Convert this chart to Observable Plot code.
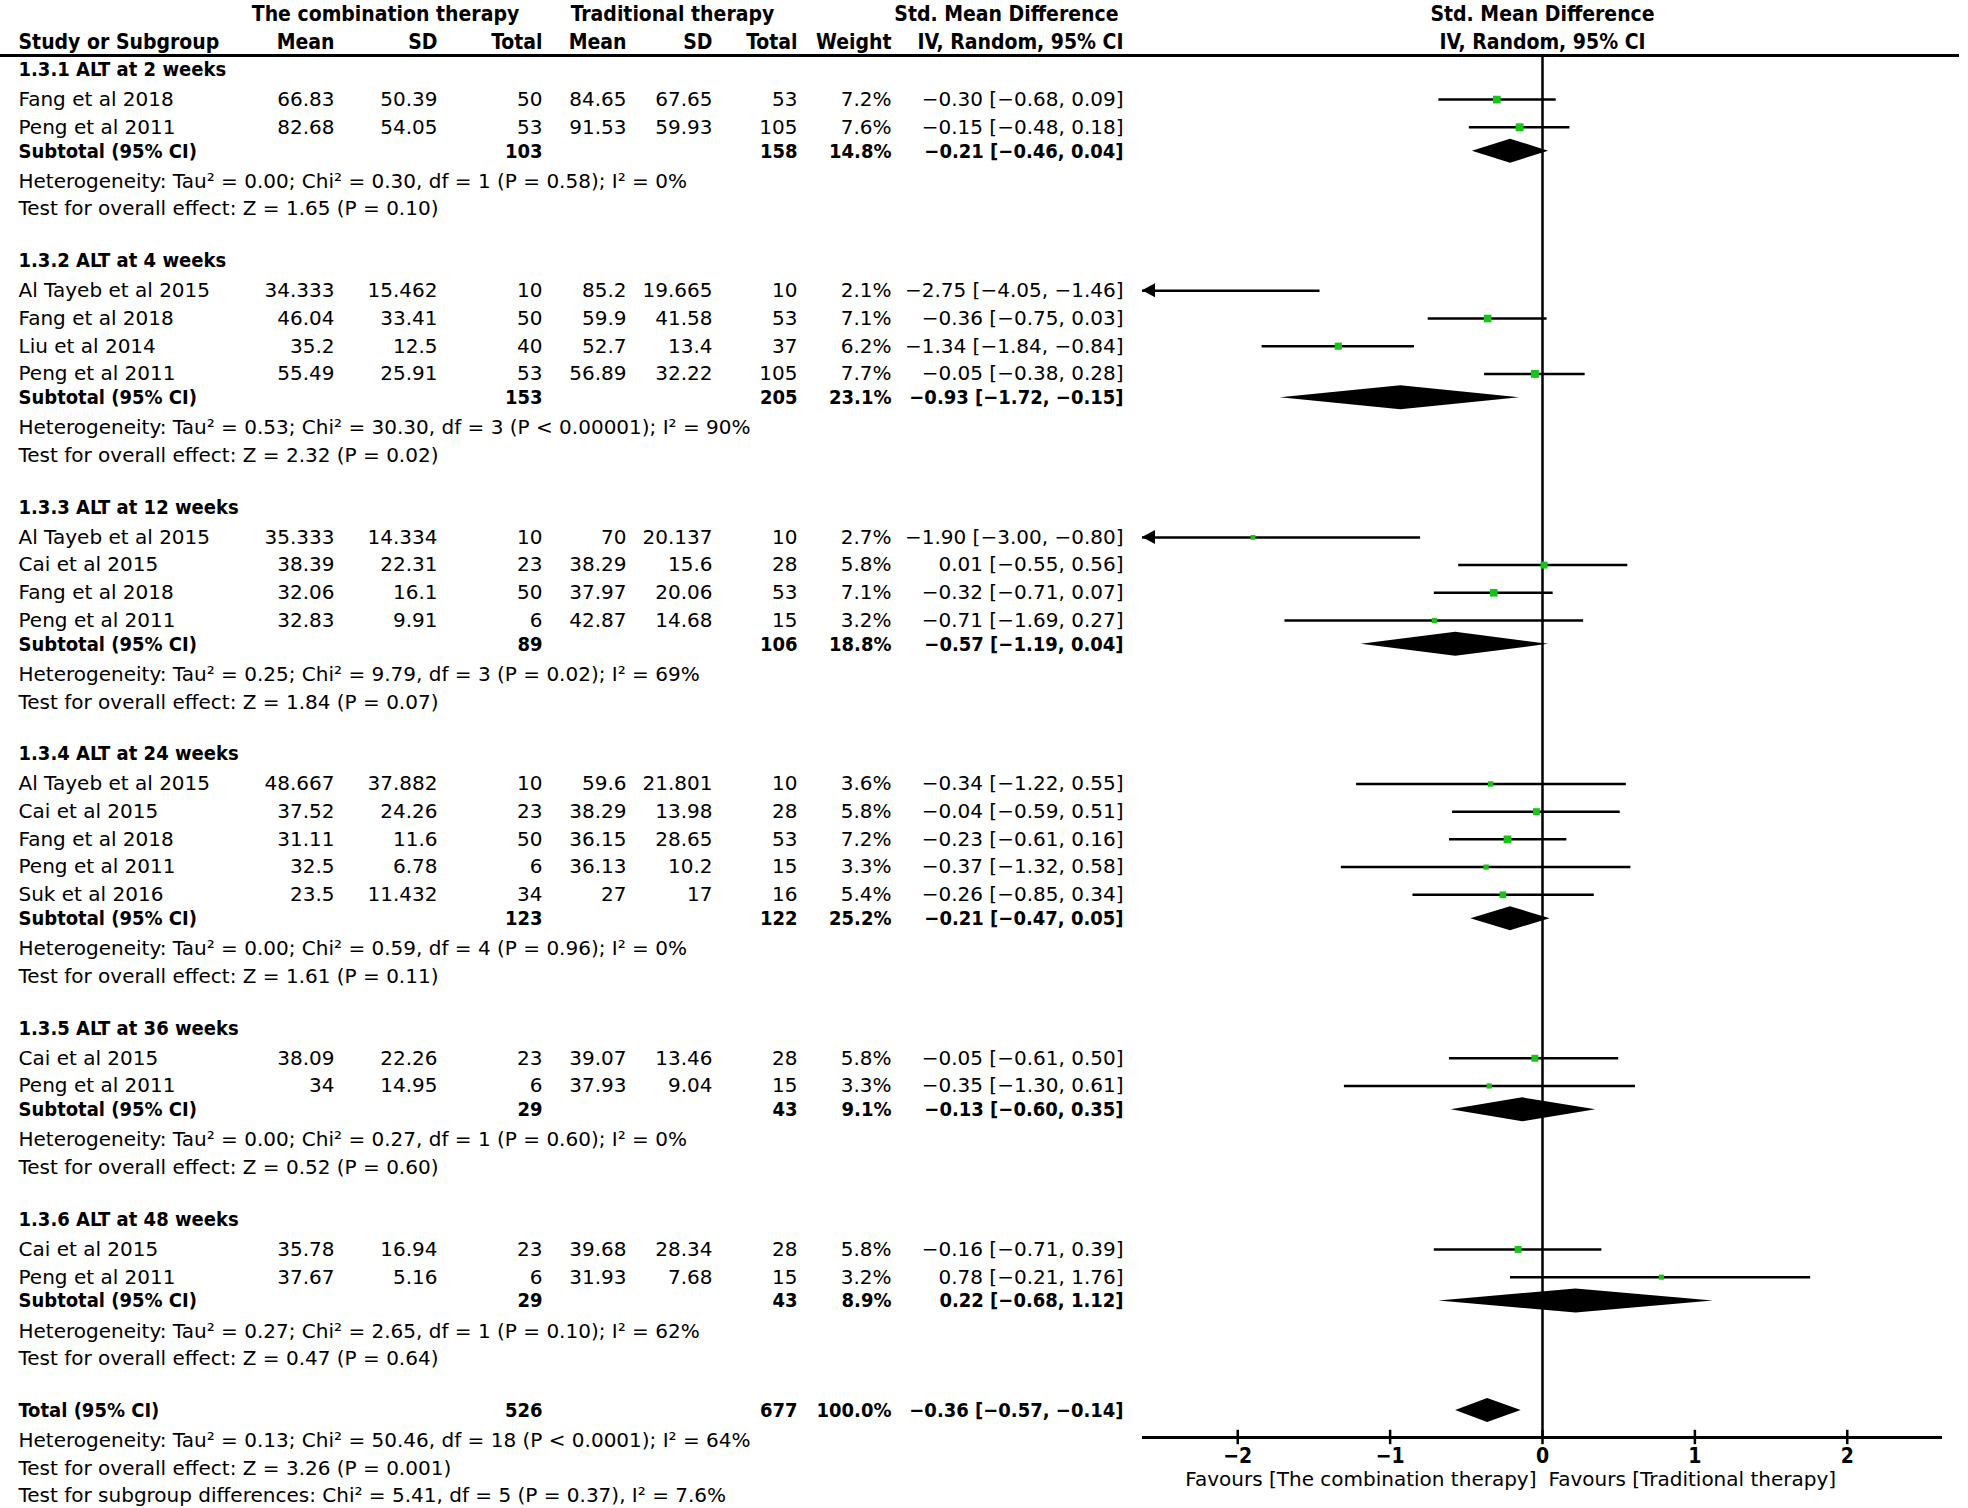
<!DOCTYPE html>
<html><head><meta charset="utf-8">
<script src="https://cdn.jsdelivr.net/npm/d3@7"></script>
<script src="https://cdn.jsdelivr.net/npm/@observablehq/plot@0.6"></script>
<style>
html,body{margin:0;padding:0;background:#fff;}
#chart svg{display:block;}
#chart g[font-weight="bold"]{font-family:'DejaVu Sans Condensed','DejaVu Sans',sans-serif;font-stretch:condensed;}
</style></head><body><div id="chart"></div>
<script>
// ---------------- DATA ----------------
const subgroupTitles = ["1.3.1 ALT at 2 weeks","1.3.2 ALT at 4 weeks","1.3.3 ALT at 12 weeks","1.3.4 ALT at 24 weeks","1.3.5 ALT at 36 weeks","1.3.6 ALT at 48 weeks"];
const studyGroup = [0,0, 1,1,1,1, 2,2,2,2, 3,3,3,3,3, 4,4, 5,5];
const studyNames = ["Fang et al 2018","Peng et al 2011",
  "Al Tayeb et al 2015","Fang et al 2018","Liu et al 2014","Peng et al 2011",
  "Al Tayeb et al 2015","Cai et al 2015","Fang et al 2018","Peng et al 2011",
  "Al Tayeb et al 2015","Cai et al 2015","Fang et al 2018","Peng et al 2011","Suk et al 2016",
  "Cai et al 2015","Peng et al 2011",
  "Cai et al 2015","Peng et al 2011"];
const combMean = [66.83,82.68, 34.333,46.04,35.2,55.49, 35.333,38.39,32.06,32.83, 48.667,37.52,31.11,32.5,23.5, 38.09,34, 35.78,37.67];
const combSD   = [50.39,54.05, 15.462,33.41,12.5,25.91, 14.334,22.31,16.1,9.91, 37.882,24.26,11.6,6.78,11.432, 22.26,14.95, 16.94,5.16];
const combN    = [50,53, 10,50,40,53, 10,23,50,6, 10,23,50,6,34, 23,6, 23,6];
const tradMean = [84.65,91.53, 85.2,59.9,52.7,56.89, 70,38.29,37.97,42.87, 59.6,38.29,36.15,36.13,27, 39.07,37.93, 39.68,31.93];
const tradSD   = [67.65,59.93, 19.665,41.58,13.4,32.22, 20.137,15.6,20.06,14.68, 21.801,13.98,28.65,10.2,17, 13.46,9.04, 28.34,7.68];
const tradN    = [53,105, 10,53,37,105, 10,28,53,15, 10,28,53,15,16, 28,15, 28,15];
const studyWeight = [7.2,7.6, 2.1,7.1,6.2,7.7, 2.7,5.8,7.1,3.2, 3.6,5.8,7.2,3.3,5.4, 5.8,3.3, 5.8,3.2];
const studySMD  = [-0.30,-0.15, -2.75,-0.36,-1.34,-0.05, -1.90,0.01,-0.32,-0.71, -0.34,-0.04,-0.23,-0.37,-0.26, -0.05,-0.35, -0.16,0.78];
const studyLow  = [-0.68,-0.48, -4.05,-0.75,-1.84,-0.38, -3.00,-0.55,-0.71,-1.69, -1.22,-0.59,-0.61,-1.32,-0.85, -0.61,-1.30, -0.71,-0.21];
const studyHigh = [0.09,0.18, -1.46,0.03,-0.84,0.28, -0.80,0.56,0.07,0.27, 0.55,0.51,0.16,0.58,0.34, 0.50,0.61, 0.39,1.76];

const subCombN  = [103,153,89,123,29,29];
const subTradN  = [158,205,106,122,43,43];
const subWeight = [14.8,23.1,18.8,25.2,9.1,8.9];
const subSMD    = [-0.21,-0.93,-0.57,-0.21,-0.13,0.22];
const subLow    = [-0.46,-1.72,-1.19,-0.47,-0.60,-0.68];
const subHigh   = [0.04,-0.15,0.04,0.05,0.35,1.12];
const subHeterogeneity = [
  "Heterogeneity: Tau² = 0.00; Chi² = 0.30, df = 1 (P = 0.58); I² = 0%",
  "Heterogeneity: Tau² = 0.53; Chi² = 30.30, df = 3 (P < 0.00001); I² = 90%",
  "Heterogeneity: Tau² = 0.25; Chi² = 9.79, df = 3 (P = 0.02); I² = 69%",
  "Heterogeneity: Tau² = 0.00; Chi² = 0.59, df = 4 (P = 0.96); I² = 0%",
  "Heterogeneity: Tau² = 0.00; Chi² = 0.27, df = 1 (P = 0.60); I² = 0%",
  "Heterogeneity: Tau² = 0.27; Chi² = 2.65, df = 1 (P = 0.10); I² = 62%"];
const subOverall = [
  "Test for overall effect: Z = 1.65 (P = 0.10)",
  "Test for overall effect: Z = 2.32 (P = 0.02)",
  "Test for overall effect: Z = 1.84 (P = 0.07)",
  "Test for overall effect: Z = 1.61 (P = 0.11)",
  "Test for overall effect: Z = 0.52 (P = 0.60)",
  "Test for overall effect: Z = 0.47 (P = 0.64)"];

const totalCombN = 526, totalTradN = 677, totalWeight = 100.0;
const totalSMD = -0.36, totalLow = -0.57, totalHigh = -0.14;
const totalHeterogeneity = "Heterogeneity: Tau² = 0.13; Chi² = 50.46, df = 18 (P < 0.0001); I² = 64%";
const totalOverall = "Test for overall effect: Z = 3.26 (P = 0.001)";
const subgroupDifferences = "Test for subgroup differences: Chi² = 5.41, df = 5 (P = 0.37), I² = 7.6%";

const xTicks = [-2, -1, 0, 1, 2];
const xDomain = [-2.625, 2.625];
const favoursLeft = "Favours [The combination therapy]";
const favoursRight = "Favours [Traditional therapy]";

// ---------------- LAYOUT ----------------
const W = 1968, H = 1508;
const ML = 1142, MR = 26, MT = 55, MB = 71;
const ROW0 = 69, PITCH = 27.7;            // px of first row, px per line unit
const pxToRow = p => (p - ROW0) / PITCH;
const FS = 20, FSB = 20, FSH = 21;
const GREEN = "#18c418";
const col = {name: 18, cm: 334, csd: 437, cn: 542, tm: 626, tsd: 712, tn: 797, w: 891, ci: 1123};

const minus = v => (v < 0 ? "\u2212" : "") + Math.abs(v).toFixed(2);
const ciText = (e, l, h) => `${minus(e)} [${minus(l)}, ${minus(h)}]`;
const numText = v => v < 0 ? "\u2212" + Math.abs(v) : String(v);

// build rows
const rows = [];
let pos = 0;
subgroupTitles.forEach((title, g) => {
  rows.push({kind: "heading", y: pos, name: title});
  pos += 1.087;
  let first = true;
  studyGroup.forEach((sg, i) => {
    if (sg !== g) return;
    if (!first) pos += 1;
    first = false;
    rows.push({kind: "study", y: pos, name: studyNames[i],
      cm: numText(combMean[i]), csd: numText(combSD[i]), cn: String(combN[i]),
      tm: numText(tradMean[i]), tsd: numText(tradSD[i]), tn: String(tradN[i]),
      w: studyWeight[i].toFixed(1) + "%", ci: ciText(studySMD[i], studyLow[i], studyHigh[i]),
      wt: studyWeight[i], est: studySMD[i], lo: studyLow[i], hi: studyHigh[i]});
  });
  pos += 0.862;
  rows.push({kind: "subtotal", y: pos, name: "Subtotal (95% CI)", cn: String(subCombN[g]), tn: String(subTradN[g]),
    w: subWeight[g].toFixed(1) + "%", ci: ciText(subSMD[g], subLow[g], subHigh[g]),
    est: subSMD[g], lo: subLow[g], hi: subHigh[g], id: "s" + g});
  pos += 1.087;
  rows.push({kind: "note", y: pos, name: subHeterogeneity[g]});
  pos += 1;
  rows.push({kind: "note", y: pos, name: subOverall[g]});
  pos += 1.866;
});
rows.push({kind: "subtotal", y: pos, name: "Total (95% CI)", cn: String(totalCombN), tn: String(totalTradN),
  w: totalWeight.toFixed(1) + "%", ci: ciText(totalSMD, totalLow, totalHigh),
  est: totalSMD, lo: totalLow, hi: totalHigh, id: "total"});
pos += 1.087;
rows.push({kind: "note", y: pos, name: totalHeterogeneity});
pos += 1;
rows.push({kind: "note", y: pos, name: totalOverall});
pos += 1;
rows.push({kind: "note", y: pos, name: subgroupDifferences});

const studies = rows.filter(d => d.kind === "study");
const pooled = rows.filter(d => d.kind === "subtotal");
const boldRows = rows.filter(d => d.kind === "heading" || d.kind === "subtotal");
const plainRows = rows.filter(d => d.kind === "study" || d.kind === "note");

const DIA_H = 12 / PITCH;
const diamonds = pooled.flatMap(d => [
  {id: d.id, x: d.lo, y1: d.y, y2: d.y},
  {id: d.id, x: d.est, y1: d.y - DIA_H, y2: d.y + DIA_H},
  {id: d.id, x: d.hi, y1: d.y, y2: d.y}]);

const pxPerUnit = (W - MR - ML) / (xDomain[1] - xDomain[0]);
const ARROW_LEN = 13 / pxPerUnit;
const ARROW_H = 7 / PITCH;
const arrows = studies.filter(d => d.lo < xDomain[0]).flatMap((d, k) => [
  {id: k, x: xDomain[0], y1: d.y, y2: d.y},
  {id: k, x: xDomain[0] + ARROW_LEN, y1: d.y - ARROW_H, y2: d.y + ARROW_H}]);

const headerRow1 = -2, headerRow2 = -1;
const headerLine = pxToRow(MT);
const axisRow = pxToRow(H - MB);
const tickLabelRow = pxToRow(1456);
const favoursRow = pxToRow(1479);

function textCol(data, key, px, anchor, weight) {
  return Plot.text(data.filter(d => d[key] != null), {
    y: "y", text: key, frameAnchor: "left", dx: px - ML,
    textAnchor: anchor, fontWeight: weight, fontSize: weight === "bold" ? FSB : FS, fill: "black"});
}
function headText(label, px, row, anchor) {
  return Plot.text([label], {y: () => row, text: d => d, frameAnchor: "left", dx: px - ML,
    textAnchor: anchor, fontWeight: "bold", fontSize: FSH, fill: "black"});
}

const marks = [
  // header line
  Plot.ruleY([headerLine], {y: d => d, stroke: "black", strokeWidth: 3, insetLeft: -ML, insetRight: -(1959 - (W - MR))}),
  // headers
  headText("The combination therapy", 385, headerRow1, "middle"),
  headText("Traditional therapy", 672, headerRow1, "middle"),
  headText("Std. Mean Difference", 1118, headerRow1, "end"),
  headText("Study or Subgroup", col.name, headerRow2, "start"),
  headText("Mean", col.cm, headerRow2, "end"),
  headText("SD", col.csd, headerRow2, "end"),
  headText("Total", col.cn, headerRow2, "end"),
  headText("Mean", col.tm, headerRow2, "end"),
  headText("SD", col.tsd, headerRow2, "end"),
  headText("Total", col.tn, headerRow2, "end"),
  headText("Weight", col.w, headerRow2, "end"),
  headText("IV, Random, 95% CI", col.ci, headerRow2, "end"),
  Plot.text(["Std. Mean Difference"], {x: () => 0, y: () => headerRow1, text: d => d, fontWeight: "bold", fontSize: FSH}),
  Plot.text(["IV, Random, 95% CI"], {x: () => 0, y: () => headerRow2, text: d => d, fontWeight: "bold", fontSize: FSH}),
  // table body
  textCol(plainRows, "name", col.name, "start", "normal"),
  textCol(boldRows, "name", col.name, "start", "bold"),
  ...[["cm", col.cm], ["csd", col.csd], ["cn", col.cn], ["tm", col.tm], ["tsd", col.tsd], ["tn", col.tn], ["w", col.w], ["ci", col.ci]]
    .flatMap(([k, px]) => [textCol(plainRows, k, px, "end", "normal"), textCol(boldRows, k, px, "end", "bold")]),
  // zero line
  Plot.ruleX([0], {stroke: "black", strokeWidth: 2.5}),
  // CI lines
  Plot.ruleY(studies, {y: "y", x1: d => Math.max(d.lo, xDomain[0]), x2: d => Math.min(d.hi, xDomain[1]), stroke: "black", strokeWidth: 2.5}),
  Plot.areaY(arrows, {x: "x", y1: "y1", y2: "y2", z: "id", fill: "black"}),
  Plot.dot(studies.filter(d => d.est >= xDomain[0] && d.est <= xDomain[1]), {x: "est", y: "y", r: "wt", symbol: "square", fill: GREEN, stroke: "none"}),
  // diamonds
  Plot.areaY(diamonds, {x: "x", y1: "y1", y2: "y2", z: "id", fill: "black"}),
  // axis
  Plot.ruleY([axisRow], {y: d => d, stroke: "black", strokeWidth: 3}),
  Plot.ruleX(xTicks, {x: d => d, y1: axisRow - 0.26, y2: axisRow + 0.26, stroke: "black", strokeWidth: 2.5}),
  Plot.text(xTicks, {x: d => d, y: () => tickLabelRow, text: d => d < 0 ? "\u2212" + Math.abs(d) : String(d), fontSize: FSH, fontWeight: "bold"}),
  Plot.text([favoursLeft], {x: () => 0, y: () => favoursRow, text: d => d, textAnchor: "end", dx: -6, fontSize: FS}),
  Plot.text([favoursRight], {x: () => 0, y: () => favoursRow, text: d => d, textAnchor: "start", dx: 6, fontSize: FS})
];

const chart = Plot.plot({
  width: W, height: H,
  marginLeft: ML, marginRight: MR, marginTop: MT, marginBottom: MB,
  x: {domain: xDomain, axis: null},
  y: {domain: [0, 1], range: [ROW0, ROW0 + PITCH], axis: null},
  r: {type: "sqrt", domain: [0, 8], range: [0, 4.6]},
  style: {fontFamily: "'DejaVu Sans', sans-serif", fontSize: FS + "px", color: "black", background: "white"},
  marks
});
document.getElementById("chart").appendChild(chart);
</script>
</body></html>
